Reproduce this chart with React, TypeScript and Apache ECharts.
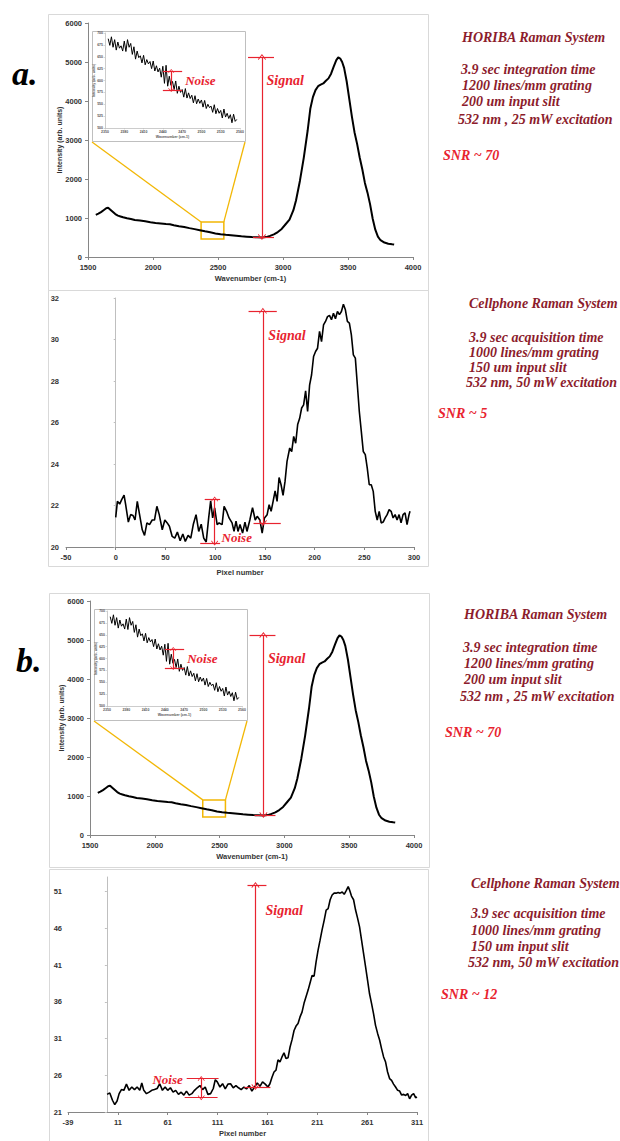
import React, { useEffect, useRef } from "react";
import * as echarts from "echarts";

// ---------------- DATA ----------------
// HORIBA spectrum (wavenumber, intensity)
const horibaWavenumber = [1560,1580,1600,1620,1640,1655,1670,1690,1710,1730,1750,1770,1800,1830,1860,1900,1940,1980,2020,2060,2100,2130,2160,2200,2240,2280,2320,2360,2400,2440,2480,2520,2560,2600,2640,2680,2720,2760,2800,2840,2870,2900,2930,2960,2990,3020,3050,3080,3100,3130,3160,3190,3210,3230,3250,3270,3290,3310,3330,3350,3370,3390,3410,3425,3440,3455,3470,3490,3510,3530,3550,3570,3590,3610,3630,3650,3670,3690,3710,3730,3750,3780,3810,3840,3855];
const horibaIntensity = [1080,1110,1150,1200,1250,1265,1220,1160,1100,1060,1040,1020,995,975,950,935,915,890,872,860,848,840,815,790,770,740,715,688,660,635,605,585,570,560,545,530,520,510,505,500,510,540,580,640,720,840,960,1200,1450,1950,2550,3250,3800,4100,4280,4380,4420,4450,4520,4580,4700,4880,5050,5120,5090,5000,4850,4500,4050,3600,3200,2900,2550,2250,1900,1650,1350,980,700,520,430,370,340,325,318];

// HORIBA zoomed inset (wavenumber, intensity)
const insetWavenumber = [2355,2357.5,2360,2362.5,2365,2367.5,2370,2372.5,2375,2377.5,2380,2382.5,2385,2387.5,2390,2392.5,2395,2397.5,2400,2402.5,2405,2407.5,2410,2412.5,2415,2417.5,2420,2422.5,2425,2427.5,2430,2432.5,2435,2437.5,2440,2442.5,2445,2447.5,2450,2452.5,2455,2457.5,2460,2462.5,2465,2467.5,2470,2472.5,2475,2477.5,2480,2482.5,2485,2487.5,2490,2492.5,2495,2497.5,2500,2502.5,2505,2507.5,2510,2512.5,2515,2517.5,2520,2522.5,2525,2527.5,2530,2532.5,2535,2537.5,2540,2542.5,2545,2547.5,2550,2552.5,2555];
const insetIntensity = [688,674,692,670,686,664,681,668,673,662,683,661,686,670,678,655,671,645,662,648,652,637,653,633,644,635,640,625,641,620,631,618,626,607,630,594,632,588,609,590,598,581,599,573,588,575,581,565,583,563,574,562,569,553,568,551,561,552,559,544,558,541,550,543,546,533,549,530,541,531,537,521,540,523,531,520,528,511,529,514,518];

// Cellphone spectrum, panel a (pixel, intensity)
const cellAPixel = [0,1.7,4,6,8.4,10,12.7,15,17.4,19.4,21.7,24,26.7,29,31.4,34,36.7,39,41.4,43.8,46.8,49.4,51.8,54,56.8,59.4,62,64.8,67.5,70,72.8,75.5,78,80.8,83.5,86,88.5,91,93.5,95.5,97.5,99.5,102,104,107,109,111.5,114,117,119,121,123,125,127.6,130,132,134.9,137.6,140.3,142.3,145,147.3,149.6,152.3,154.3,156.3,158.3,160.3,162.3,164.3,166.3,168.3,170.3,172.3,175,177,179,181,183,185,187,189,191,193,195,197,199,201,203,205,207,209,211,213,215,217,219,221,223,225,227,229,231,233,235,237,239,241,243,245,247,249,251,253,255,257,259,261,263,265,267,269,271,273,275,277,279,281,283,285,287,289,291,293,295,296];
const cellAIntensity = [21.43,22.2,22.07,22.28,22.5,22.04,21.2,21.56,21.52,21.3,22.2,21.56,20.83,20.56,21.16,21.08,21.3,21.3,21.96,21.56,20.83,21.3,21.16,21.0,20.51,20.43,20.72,20.3,20.63,20.27,20.56,20.43,21.08,21.56,20.75,21.1,20.43,20.24,21.4,22.23,21.4,21.88,21.08,21.16,21.08,21.96,21.72,21.4,21.16,20.75,21.24,20.75,21.08,20.67,21.2,20.75,21.3,21.9,21.3,21.48,21.3,20.67,21.4,21.56,22.04,21.72,22.2,22.7,22.2,23.35,23.0,22.49,23.16,24.13,24.77,24.6,25.33,25.0,25.9,26.2,26.7,26.85,27.53,26.53,27.8,28.3,29.18,29.42,29.58,30.39,29.9,30.7,30.87,31.1,31.16,30.95,31.27,31.0,31.35,31.2,31.35,31.7,31.43,30.87,30.79,30.22,29.26,29.1,27.82,26.53,25.57,24.6,24.45,23.8,23.0,23.0,22.68,21.72,21.3,21.72,21.16,21.2,21.4,21.56,21.8,21.72,21.4,21.56,21.3,21.56,21.16,21.56,21.64,21.08,21.56,21.72];

// Cellphone spectrum, panel b (pixel, intensity)
const cellBPixel = [0.2,2.9,5.6,7.9,10.2,12.3,14.6,17,19.6,22.3,25,27.7,30.3,33,35,37,39.7,42.4,45,47.7,50.4,53,55.7,58.4,61,63.7,66.4,69,71.8,74.5,77.2,79.8,82.5,85.2,87.9,90.6,93.3,96,98.6,101.3,104,106.7,108.7,110.7,113.4,116,118.7,121.4,124,126.7,129.4,132,134.7,137.4,140,142.8,145.4,148.1,150.8,153.5,156.1,158.8,161.5,163.5,165.5,167.6,169.6,171.6,173.6,175.6,177.6,179.6,181.7,183.7,185.7,187.7,189.7,191.7,193.7,195.7,197.7,199.7,201.8,203.8,205.8,207.8,209.8,211.8,213.8,215.8,217.9,219.9,221.9,223.9,225.9,227.9,229.9,231.9,233.9,236,238,240,242,243.3,245.3,247.4,249.4,251.4,253.4,255.4,257.4,259.4,261.4,263.4,265.4,267.4,269.4,271.5,273.5,275.5,277.5,279.5,281.5,283.5,285.5,287.5,289.5,291.6,293.6,295.6,297.6,299.6,301.6,303.6,305.6,307.6,309.6,311];
const cellBIntensity = [23.4,23.6,22.6,22.0,22.5,23.5,24.05,23.95,24.8,23.95,24.4,24.05,24.4,23.95,24.95,23.95,23.5,23.7,23.95,24.05,24.2,24.85,23.95,24.4,23.95,24.3,23.7,23.95,23.4,23.7,23.3,23.85,23.3,23.5,23.95,24.3,24.6,24.05,24.4,23.4,23.5,24.2,25.4,25.1,24.4,24.85,24.15,24.8,24.85,24.3,24.6,24.3,24.05,24.4,24.15,24.6,23.85,24.4,24.95,24.5,25.1,24.8,24.4,24.85,25.7,26.45,26.7,28.1,27.8,28.5,29.05,28.3,28.4,29.85,30.85,32.1,32.7,33.05,33.95,34.6,35.8,36.7,37.6,38.6,39.6,39.5,41.45,43.05,44.4,45.8,47.1,48.5,48.7,49.9,50.55,50.8,50.8,50.9,50.8,50.95,50.65,51.15,51.7,51.25,50.4,49.9,48.5,47.4,46.2,44.4,42.6,40.8,38.95,37.1,35.8,34.4,32.8,31.7,30.8,29.6,28.5,27.8,26.45,25.55,25.3,24.8,24.4,23.95,23.85,23.3,23.4,23.25,23.5,22.8,23.3,23.5,22.95,23.05];

// Tick labels
const insetXTicks = [2350, 2380, 2410, 2440, 2470, 2500, 2530, 2560];
const insetYTicks = [500, 525, 550, 575, 600, 625, 650, 675, 700];
const cellBXTicks = [-39, 11, 61, 111, 161, 211, 261, 311];
const cellBYTicks = [21, 26, 31, 36, 41, 46, 51];

// Annotation values (data space)
const horibaSignal = { x: 2838, low: 513, high: 5128, x0: 2731, x1: 2931, xb0: 2769, textX: 2869, textY: 4538 };
const horibaZoomBox = { x0: 2370, x1: 2545, y0: 460, y1: 900 };
const insetNoise = { x: 2453, low: 580, high: 620, x0: 2440, x1: 2470, textX: 2474, textY: 601 };
const cellASignal = { x: 148, low: 21.16, high: 31.38, x0: 133.6, x1: 162, xb0: 138.6, xb1: 166, textX: 153, textY: 30.2 };
const cellANoise = { x: 99.5, low: 20.19, high: 22.31, x0: 89.5, x1: 105, xb0: 85, xb1: 105, textX: 106, textY: 20.48 };
const cellBSignal = { x: 149, low: 24.4, high: 51.9, x0: 141, x1: 160, xb0: 138, xb1: 164, textX: 158.6, textY: 48.4 };
const cellBNoise = { x: 94.6, low: 22.95, high: 25.55, x0: 80, x1: 112, xb0: 78, xb1: 111, textX: 76.6, textY: 25.45 };

// Texts
const horibaText = ["HORIBA Raman System", "3.9 sec integration time", "1200 lines/mm grating", "200 um input slit", "532 nm , 25 mW excitation"];
const cellAText = ["Cellphone Raman System", "3.9 sec acquisition time", "1000 lines/mm grating", "150 um input slit", "532 nm, 50 mW excitation"];
const cellBText = cellAText;
const snrLabels = ["SNR ~ 70", "SNR ~ 5", "SNR ~ 70", "SNR ~ 12"];

// ---------------- STYLE ----------------
const SANS = '"Liberation Sans", Arial, sans-serif';
const SERIF = '"Liberation Serif", "Times New Roman", serif';
const RED = "#e8232f";
const MAROON = "#8c1c2c";
const GOLD = "#f2b705";
const AXIS = "#868686";
const FRAME = "#d9d9d9";
const CHEV = "path://M0,0L10,10L8.6,11.4L0,2.8L-8.6,11.4L-10,10Z";

const pairs = (xs: number[], ys: number[]) => xs.map((x, i) => [x, ys[i]]);
const plain = (v: number) => String(v);

const labelStyle = (size: number) => ({ fontFamily: SANS, fontWeight: "bold" as const, fontSize: size, color: "#333" });

const hBar = (x0: number, x1: number, y: number) => [
  { coord: [x0, y], symbol: "none" },
  { coord: [x1, y], symbol: "none" },
];
const vArrow = (x: number, y0: number, y1: number, size: number[]) => [
  { coord: [x, y0], symbol: CHEV, symbolSize: size },
  { coord: [x, y1], symbol: CHEV, symbolSize: size },
];

const annotText = (x: number, y: number, text: string, size: number, pos: string) => ({
  silent: true,
  symbol: "circle",
  symbolSize: 1,
  itemStyle: { color: "rgba(0,0,0,0)" },
  label: { show: true, position: pos, distance: 0, fontFamily: SERIF, fontStyle: "italic", fontWeight: "bold", fontSize: size, color: RED },
  data: [{ coord: [x, y], value: 0, label: { formatter: text } }],
});

const redLines = (data: any[]) => ({
  silent: true,
  symbol: ["none", "none"],
  animation: false,
  lineStyle: { color: RED, width: 1.2, type: "solid" },
  label: { show: false },
  emphasis: { disabled: true },
  data,
});

function horibaAxes(gi: number) {
  const x = {
    gridIndex: gi, type: "value", min: 1500, max: 4000, interval: 500,
    axisLine: { onZero: false, lineStyle: { color: AXIS, width: 1 } },
    axisTick: { show: true, length: 3, lineStyle: { color: AXIS } },
    splitLine: { show: false },
    axisLabel: { ...labelStyle(7.5), margin: 6, formatter: plain },
    name: "Wavenumber (cm-1)", nameLocation: "middle", nameGap: 17, nameMoveOverlap: false,
    nameTextStyle: labelStyle(7.5),
  };
  const y = {
    gridIndex: gi, type: "value", min: 0, max: 6000, interval: 1000,
    axisLine: { show: true, onZero: false, lineStyle: { color: AXIS, width: 1 } },
    axisTick: { show: true, length: 3, lineStyle: { color: AXIS } },
    splitLine: { show: false },
    axisLabel: { ...labelStyle(7.5), margin: 6, formatter: plain },
    name: "Intensity (arb. units)", nameLocation: "middle", nameGap: 25, nameMoveOverlap: false,
    nameTextStyle: labelStyle(7),
  };
  return { x, y };
}

function insetAxes(gi: number) {
  const x = {
    gridIndex: gi, type: "value", min: 2350, max: 2560,
    axisLine: { onZero: false, lineStyle: { color: "#bfbfbf", width: 0.8 } },
    axisTick: { show: true, length: 1.5, customValues: insetXTicks, lineStyle: { color: "#bfbfbf", width: 0.6 } },
    splitLine: { show: false },
    axisLabel: { ...labelStyle(3.5), color: "#555", margin: 2, customValues: insetXTicks, formatter: plain },
    name: "Wavenumber (cm-1)", nameLocation: "middle", nameGap: 7, nameMoveOverlap: false,
    nameTextStyle: { ...labelStyle(3.5), color: "#555" },
  };
  const y = {
    gridIndex: gi, type: "value", min: 500, max: 700,
    axisLine: { show: true, onZero: false, lineStyle: { color: "#bfbfbf", width: 0.8 } },
    axisTick: { show: true, length: 1.5, customValues: insetYTicks, lineStyle: { color: "#bfbfbf", width: 0.6 } },
    splitLine: { show: false },
    axisLabel: { ...labelStyle(3.5), color: "#555", margin: 2, customValues: insetYTicks, formatter: plain },
    name: "Intensity (arb. units)", nameLocation: "middle", nameGap: 9, nameMoveOverlap: false,
    nameTextStyle: { ...labelStyle(3.5), color: "#555" },
  };
  return { x, y };
}

function buildOption() {
  const h1 = horibaAxes(0);
  const i1 = insetAxes(1);
  const h3 = horibaAxes(3);
  const i4 = insetAxes(4);

  const cAx = {
    gridIndex: 2, type: "value", min: -50, max: 300, interval: 50,
    axisLine: { onZero: false, lineStyle: { color: AXIS, width: 1 } },
    axisTick: { show: true, length: 3, lineStyle: { color: AXIS } },
    splitLine: { show: false },
    axisLabel: { ...labelStyle(7.5), margin: 6, formatter: plain },
    name: "Pixel number", nameLocation: "middle", nameGap: 21, nameMoveOverlap: false,
    nameTextStyle: labelStyle(7.5),
  };
  const cAy = {
    gridIndex: 2, type: "value", min: 20, max: 32, interval: 2,
    axisLine: { show: true, onZero: true, lineStyle: { color: "#bfbfbf", width: 1 } },
    axisTick: { show: true, length: 2, lineStyle: { color: "#bfbfbf" } },
    splitLine: { show: false },
    axisLabel: { ...labelStyle(7.5), margin: 7, formatter: plain },
  };
  const cBx = {
    gridIndex: 5, type: "value", min: -39, max: 311,
    axisLine: { onZero: false, lineStyle: { color: AXIS, width: 1 } },
    axisTick: { show: true, length: 3, customValues: cellBXTicks, lineStyle: { color: AXIS } },
    splitLine: { show: false },
    axisLabel: { ...labelStyle(7.5), margin: 6, customValues: cellBXTicks, formatter: plain },
    name: "Pixel number", nameLocation: "middle", nameGap: 17, nameMoveOverlap: false,
    nameTextStyle: labelStyle(7.5),
  };
  const cBy = {
    gridIndex: 5, type: "value", min: 21, max: 53,
    axisLine: { show: true, onZero: true, lineStyle: { color: "#bfbfbf", width: 1 } },
    axisTick: { show: true, length: 2, customValues: cellBYTicks, lineStyle: { color: "#bfbfbf" } },
    splitLine: { show: false },
    axisLabel: { ...labelStyle(7.5), margin: 6, customValues: cellBYTicks, formatter: plain },
  };

  const horibaSeries = (ai: number) => ({
    type: "line", xAxisIndex: ai, yAxisIndex: ai, showSymbol: false, silent: true,
    data: pairs(horibaWavenumber, horibaIntensity),
    lineStyle: { color: "#000", width: 2 },
    markLine: redLines([
      hBar(horibaSignal.x0, horibaSignal.x1, horibaSignal.high),
      hBar(horibaSignal.xb0, horibaSignal.x1, horibaSignal.low),
      vArrow(horibaSignal.x, horibaSignal.low, horibaSignal.high, [8, 6]),
    ]),
    markArea: {
      silent: true,
      itemStyle: { color: "rgba(0,0,0,0)", borderColor: GOLD, borderWidth: 1.5 },
      data: [[{ coord: [horibaZoomBox.x0, horibaZoomBox.y1] }, { coord: [horibaZoomBox.x1, horibaZoomBox.y0] }]],
    },
    markPoint: annotText(horibaSignal.textX, horibaSignal.textY, "Signal", 14, "right"),
  });
  const insetSeries = (ai: number) => ({
    type: "line", xAxisIndex: ai, yAxisIndex: ai, showSymbol: false, silent: true,
    data: pairs(insetWavenumber, insetIntensity),
    lineStyle: { color: "#000", width: 1 },
    markLine: redLines([
      hBar(insetNoise.x0, insetNoise.x1, insetNoise.high),
      hBar(insetNoise.x0, insetNoise.x1, insetNoise.low),
      vArrow(insetNoise.x, insetNoise.low, insetNoise.high, [6, 4]),
    ]),
    markPoint: annotText(insetNoise.textX, insetNoise.textY, "Noise", 13, "right"),
  });
  const cellSeries = (ai: number, xs: number[], ys: number[], sig: any, noi: any, noisePos: string) => ({
    type: "line", xAxisIndex: ai, yAxisIndex: ai, showSymbol: false, silent: true,
    data: pairs(xs, ys),
    lineStyle: { color: "#000", width: 1.6 },
    markLine: redLines([
      hBar(sig.x0, sig.x1, sig.high),
      hBar(sig.xb0, sig.xb1, sig.low),
      vArrow(sig.x, sig.low, sig.high, [8, 6]),
      hBar(noi.x0, noi.x1, noi.high),
      hBar(noi.xb0, noi.xb1, noi.low),
      vArrow(noi.x, noi.low, noi.high, [7, 5]),
    ]),
    markPoint: {
      ...annotText(sig.textX, sig.textY, "Signal", 14, "right"),
      data: [
        { coord: [sig.textX, sig.textY], value: 0, label: { formatter: "Signal", position: "right" } },
        { coord: [noi.textX, noi.textY], value: 0, label: { formatter: "Noise", position: noisePos, fontSize: 13 } },
      ],
    },
  });

  return {
    animation: false,
    backgroundColor: "#fff",
    textStyle: { fontFamily: SANS },
    grid: [
      { left: 88, top: 23, width: 325, height: 234 },
      { left: 105, top: 33, width: 135, height: 95 },
      { left: 66, top: 298, width: 348, height: 249 },
      { left: 90, top: 601, width: 324, height: 234 },
      { left: 107, top: 611, width: 135, height: 95 },
      { left: 68, top: 877, width: 349, height: 235 },
    ],
    xAxis: [h1.x, i1.x, cAx, h3.x, i4.x, cBx],
    yAxis: [h1.y, i1.y, cAy, h3.y, i4.y, cBy],
    series: [
      horibaSeries(0),
      insetSeries(1),
      cellSeries(2, cellAPixel, cellAIntensity, cellASignal, cellANoise, "right"),
      horibaSeries(3),
      insetSeries(4),
      cellSeries(5, cellBPixel, cellBIntensity, cellBSignal, cellBNoise, "left"),
    ],
  };
}

function textBlock(lines: string[], xs: number[], ys: number[]) {
  return lines.map((t, i) => ({
    type: "text", x: xs[i], y: ys[i], z: 10, silent: true,
    style: { text: t, fill: MAROON, font: `italic bold 14px ${SERIF}`, align: "left", verticalAlign: "middle" },
  }));
}

function snrText(t: string, x: number, y: number) {
  return {
    type: "text", x, y, z: 10, silent: true,
    style: { text: t, fill: RED, font: `italic bold 14px ${SERIF}`, align: "left", verticalAlign: "middle" },
  };
}

function frame(x0: number, y0: number, x1: number, y1: number, z = -2, fill = "none", stroke = FRAME) {
  return { type: "rect", z, silent: true, shape: { x: x0 + 0.5, y: y0 + 0.5, width: x1 - x0, height: y1 - y0 }, style: { fill, stroke, lineWidth: 1 } };
}

function goldLine(a: number[], b: number[]) {
  return { type: "line", z: 5, silent: true, shape: { x1: a[0], y1: a[1], x2: b[0], y2: b[1] }, style: { stroke: GOLD, lineWidth: 1.3 } };
}

export default function App() {
  const ref = useRef<HTMLDivElement>(null);
  useEffect(() => {
    if (!ref.current) return;
    const chart = echarts.init(ref.current, null, { renderer: "svg" });
    chart.setOption(buildOption() as any);

    const tl1 = chart.convertToPixel({ gridIndex: 0 } as any, [horibaZoomBox.x0, horibaZoomBox.y1]) as number[];
    const tr1 = chart.convertToPixel({ gridIndex: 0 } as any, [horibaZoomBox.x1, horibaZoomBox.y1]) as number[];
    const tl3 = chart.convertToPixel({ gridIndex: 3 } as any, [horibaZoomBox.x0, horibaZoomBox.y1]) as number[];
    const tr3 = chart.convertToPixel({ gridIndex: 3 } as any, [horibaZoomBox.x1, horibaZoomBox.y1]) as number[];

    const elements: any[] = [
      frame(48, 14, 428, 290),
      frame(48, 290, 428, 566),
      frame(49, 593, 429, 867),
      frame(49, 869, 428, 1145),
      frame(92, 31, 245, 141, -1, "#fff", "#bfbfbf"),
      frame(94, 609, 247, 720, -1, "#fff", "#bfbfbf"),
      goldLine([92, 142], tl1),
      goldLine([245, 142], tr1),
      goldLine([94, 721], tl3),
      goldLine([247, 721], tr3),
      { type: "text", x: 12, y: 73, z: 10, silent: true, style: { text: "a.", fill: "#000", font: `italic bold 34px ${SERIF}`, align: "left", verticalAlign: "middle" } },
      { type: "text", x: 16, y: 660, z: 10, silent: true, style: { text: "b.", fill: "#000", font: `italic bold 34px ${SERIF}`, align: "left", verticalAlign: "middle" } },
      ...textBlock(horibaText, [462, 461, 462, 462, 458], [37, 69, 85, 101, 119]),
      snrText(snrLabels[0], 443, 155),
      ...textBlock(cellAText, [469, 469, 469, 469, 466], [303, 337, 352, 367, 382]),
      snrText(snrLabels[1], 438, 413),
      ...textBlock(horibaText, [464, 463, 464, 464, 460], [614, 647, 663, 679, 696]),
      snrText(snrLabels[2], 445, 732),
      ...textBlock(cellBText, [471, 471, 471, 471, 468], [883, 913, 930, 946, 962]),
      snrText(snrLabels[3], 441, 994),
    ];
    chart.setOption({ graphic: { elements } } as any);
    return () => chart.dispose();
  }, []);
  return (
    <div
      ref={ref}
      style={{ position: "absolute", left: 0, top: 0, width: 620, height: 1141, background: "#fff" }}
    />
  );
}
